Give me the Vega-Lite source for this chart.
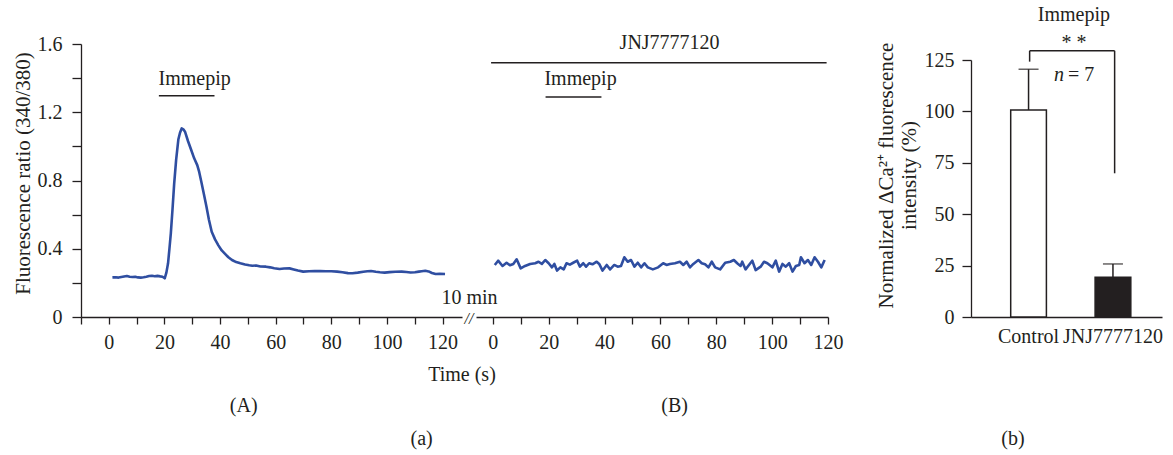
{
  "$schema": "https://vega.github.io/schema/vega-lite/v6.json",
  "padding": {"left": 11, "top": 4, "right": 5, "bottom": 5},
  "background": "white",
  "config": {
    "font": "Liberation Serif",
    "view": {"stroke": null},
    "axis": {
      "labelFont": "Liberation Serif", "titleFont": "Liberation Serif",
      "labelFontSize": 20, "titleFontSize": 20, "titleFontWeight": "normal",
      "labelColor": "#231f20", "titleColor": "#231f20",
      "domainColor": "#231f20", "tickColor": "#231f20",
      "domainWidth": 1.3, "tickWidth": 1.3, "grid": false,
      "labelOverlap": false, "labelFlush": false, "labelBound": false
    },
    "text": {"font": "Liberation Serif", "fontSize": 20, "color": "#231f20"}
  },
  "datasets": {
    "traceA": [
      {"t":1.3,"v":0.232},{"t":2.5,"v":0.233},{"t":3.5,"v":0.231},{"t":4.5,"v":0.234},{"t":5.5,"v":0.237},
      {"t":6.5,"v":0.240},{"t":7.5,"v":0.236},{"t":8.5,"v":0.234},{"t":9.5,"v":0.236},{"t":10.5,"v":0.232},
      {"t":11.5,"v":0.231},{"t":12.5,"v":0.233},{"t":13.5,"v":0.236},{"t":14.5,"v":0.240},{"t":15.5,"v":0.242},
      {"t":16.5,"v":0.239},{"t":17.5,"v":0.241},{"t":18.5,"v":0.238},{"t":19.3,"v":0.236},{"t":20.1,"v":0.227},
      {"t":20.7,"v":0.260},{"t":21.3,"v":0.315},{"t":21.8,"v":0.40},{"t":22.3,"v":0.49},{"t":22.9,"v":0.63},
      {"t":23.5,"v":0.78},{"t":24.2,"v":0.92},{"t":25.0,"v":1.04},{"t":25.6,"v":1.08},{"t":26.2,"v":1.105},
      {"t":26.8,"v":1.10},{"t":27.4,"v":1.086},{"t":28.5,"v":1.03},{"t":29.6,"v":0.98},{"t":30.7,"v":0.93},
      {"t":31.8,"v":0.89},{"t":32.5,"v":0.85},{"t":33.3,"v":0.79},{"t":34.2,"v":0.72},{"t":35.1,"v":0.647},
      {"t":36.0,"v":0.57},{"t":37.0,"v":0.50},{"t":38.2,"v":0.455},{"t":39.4,"v":0.42},{"t":40.6,"v":0.39},
      {"t":41.8,"v":0.37},{"t":43.0,"v":0.35},{"t":44.3,"v":0.334},{"t":45.8,"v":0.322},{"t":47.3,"v":0.315},
      {"t":49.0,"v":0.308},{"t":50.5,"v":0.303},{"t":51.6,"v":0.300},{"t":53.0,"v":0.302},{"t":54.5,"v":0.296},
      {"t":56.5,"v":0.295},{"t":58.0,"v":0.291},{"t":59.5,"v":0.286},{"t":61.4,"v":0.281},{"t":63.0,"v":0.284},
      {"t":65.0,"v":0.285},{"t":66.5,"v":0.279},{"t":68.0,"v":0.272},{"t":69.9,"v":0.266},{"t":72.0,"v":0.268},
      {"t":74.0,"v":0.269},{"t":76.0,"v":0.270},{"t":78.0,"v":0.268},{"t":80.0,"v":0.268},{"t":82.1,"v":0.266},
      {"t":84.0,"v":0.262},{"t":86.0,"v":0.257},{"t":87.6,"v":0.256},{"t":89.5,"v":0.260},{"t":91.5,"v":0.265},
      {"t":93.0,"v":0.268},{"t":94.3,"v":0.270},{"t":96.0,"v":0.265},{"t":97.5,"v":0.262},{"t":99.2,"v":0.260},
      {"t":101.0,"v":0.263},{"t":103.0,"v":0.265},{"t":105.3,"v":0.266},{"t":107.0,"v":0.264},{"t":108.5,"v":0.261},
      {"t":110.1,"v":0.262},{"t":111.5,"v":0.266},{"t":112.5,"v":0.268},{"t":113.8,"v":0.271},{"t":115.0,"v":0.267},
      {"t":116.2,"v":0.258},{"t":117.5,"v":0.252},{"t":119.0,"v":0.253},{"t":120.9,"v":0.252}
    ],
    "traceB": [
      {"t":0.72,"v":0.305},{"t":1.93,"v":0.330},{"t":3.49,"v":0.299},{"t":4.94,"v":0.318},{"t":6.14,"v":0.303},
      {"t":7.35,"v":0.311},{"t":8.55,"v":0.338},{"t":10.0,"v":0.285},{"t":11.56,"v":0.299},{"t":13.37,"v":0.311},
      {"t":15.18,"v":0.315},{"t":16.38,"v":0.324},{"t":17.59,"v":0.311},{"t":18.79,"v":0.334},{"t":20.0,"v":0.315},
      {"t":21.2,"v":0.291},{"t":22.05,"v":0.311},{"t":23.0,"v":0.272},{"t":24.2,"v":0.291},{"t":25.4,"v":0.279},
      {"t":26.4,"v":0.315},{"t":27.6,"v":0.307},{"t":28.8,"v":0.318},{"t":30.2,"v":0.330},{"t":31.2,"v":0.295},
      {"t":32.4,"v":0.315},{"t":33.4,"v":0.295},{"t":34.5,"v":0.315},{"t":35.7,"v":0.309},{"t":37.2,"v":0.324},
      {"t":38.1,"v":0.311},{"t":39.3,"v":0.272},{"t":40.8,"v":0.305},{"t":42.0,"v":0.279},{"t":43.5,"v":0.305},
      {"t":44.7,"v":0.295},{"t":45.9,"v":0.299},{"t":47.1,"v":0.350},{"t":48.3,"v":0.324},{"t":49.5,"v":0.334},
      {"t":50.7,"v":0.295},{"t":51.9,"v":0.318},{"t":53.1,"v":0.291},{"t":54.3,"v":0.315},{"t":55.5,"v":0.291},
      {"t":57.3,"v":0.279},{"t":59.2,"v":0.291},{"t":61.0,"v":0.315},{"t":62.2,"v":0.305},{"t":63.4,"v":0.311},
      {"t":65.2,"v":0.315},{"t":67.0,"v":0.324},{"t":68.2,"v":0.305},{"t":69.4,"v":0.324},{"t":70.6,"v":0.291},
      {"t":71.8,"v":0.311},{"t":73.6,"v":0.334},{"t":74.8,"v":0.315},{"t":76.0,"v":0.309},{"t":77.2,"v":0.291},
      {"t":78.4,"v":0.324},{"t":79.6,"v":0.291},{"t":81.4,"v":0.279},{"t":83.2,"v":0.318},{"t":85.0,"v":0.324},
      {"t":86.3,"v":0.334},{"t":87.5,"v":0.315},{"t":88.7,"v":0.299},{"t":89.3,"v":0.324},{"t":90.5,"v":0.279},
      {"t":91.7,"v":0.305},{"t":92.9,"v":0.330},{"t":94.1,"v":0.275},{"t":95.9,"v":0.295},{"t":97.1,"v":0.324},
      {"t":98.3,"v":0.315},{"t":100.1,"v":0.291},{"t":101.3,"v":0.330},{"t":102.5,"v":0.266},{"t":103.7,"v":0.311},
      {"t":104.9,"v":0.295},{"t":106.1,"v":0.315},{"t":107.3,"v":0.266},{"t":108.5,"v":0.299},{"t":109.7,"v":0.305},
      {"t":110.3,"v":0.350},{"t":111.6,"v":0.315},{"t":112.8,"v":0.334},{"t":114.0,"v":0.305},{"t":115.2,"v":0.350},
      {"t":116.4,"v":0.324},{"t":117.6,"v":0.291},{"t":118.8,"v":0.334}
    ],
    "bars": [
      {"group":"Control","mean":100.7,"upper":120.5},
      {"group":"JNJ7777120","mean":19.3,"upper":25.8}
    ]
  },
  "bounds": "flush",
  "spacing": 14,
  "hconcat": [
    {
      "width": 381, "height": 273,
      "layer": [
        {
          "data": {"name": "traceA"},
          "mark": {"type": "line", "color": "#2f4ea1", "strokeWidth": 2.6, "strokeJoin": "round"},
          "encoding": {
            "x": {"field": "t", "type": "quantitative",
              "scale": {"domain": [-10, 127], "nice": false, "zero": false},
              "axis": {"title": null, "values": [-10,0,10,20,30,40,50,60,70,80,90,100,110,120], "tickCount": 30,
                "labelExpr": "datum.value % 20 == 0 ? format(datum.value, 'd') : ''", "tickSize": 7, "labelPadding": 8,
                "labelOverlap": false}},
            "y": {"field": "v", "type": "quantitative",
              "scale": {"domain": [0, 1.6], "nice": false, "zero": false},
              "axis": {"title": "Fluorescence ratio (340/380)", "values": [0,0.2,0.4,0.6,0.8,1.0,1.2,1.4,1.6], "tickCount": 30,
                "format": ".1~f", "labelExpr": "round(datum.value*10) % 4 == 0 ? datum.label : ''",
                "tickSize": 9, "labelPadding": 10, "titlePadding": 4, "titleY": 129, "titleFontSize": 21,
                "labelOverlap": false}}
          }
        },
        {
          "data": {"values": [{}]},
          "mark": {"type": "rule", "color": "#231f20", "strokeWidth": 1.5},
          "encoding": {"x": {"datum": 18, "type": "quantitative"}, "x2": {"datum": 38}, "y": {"datum": 1.297, "type": "quantitative"}}
        },
        {
          "data": {"values": [{}]},
          "mark": {"type": "text", "align": "left", "baseline": "alphabetic"},
          "encoding": {"x": {"datum": 17.9, "type": "quantitative"}, "y": {"datum": 1.36, "type": "quantitative"}, "text": {"value": "Immepip"}}
        },
        {
          "data": {"values": [{}]},
          "mark": {"type": "text", "align": "center", "baseline": "middle", "fontSize": 16, "fontStyle": "italic"},
          "encoding": {"x": {"datum": 129.5, "type": "quantitative"}, "y": {"datum": -0.01, "type": "quantitative"}, "text": {"value": "//"}}
        },
        {
          "data": {"values": [{}]},
          "mark": {"type": "text", "align": "center", "baseline": "alphabetic"},
          "encoding": {"x": {"datum": 129.7, "type": "quantitative"}, "y": {"datum": 0.078, "type": "quantitative"}, "text": {"value": "10 min"}}
        },
        {
          "data": {"values": [{}]},
          "mark": {"type": "text", "align": "center", "baseline": "alphabetic"},
          "encoding": {"x": {"datum": 127, "type": "quantitative"}, "y": {"datum": -0.375, "type": "quantitative"}, "text": {"value": "Time (s)"}}
        },
        {
          "data": {"values": [{}]},
          "mark": {"type": "text", "align": "center", "baseline": "alphabetic"},
          "encoding": {"x": {"datum": 48.5, "type": "quantitative"}, "y": {"datum": -0.557, "type": "quantitative"}, "text": {"value": "(A)"}}
        },
        {
          "data": {"values": [{}]},
          "mark": {"type": "text", "align": "center", "baseline": "alphabetic"},
          "encoding": {"x": {"datum": 112.5, "type": "quantitative"}, "y": {"datum": -0.75, "type": "quantitative"}, "text": {"value": "(a)"}}
        }
      ]
    },
    {
      "width": 481, "height": 273,
      "layer": [
        {
          "data": {"name": "traceB"},
          "mark": {"type": "line", "color": "#2f4ea1", "strokeWidth": 2.6, "strokeJoin": "round"},
          "encoding": {
            "x": {"field": "t", "type": "quantitative",
              "scale": {"domain": [-6, 120], "range": [0, 352], "nice": false, "zero": false},
              "axis": {"title": null, "values": [0,10,20,30,40,50,60,70,80,90,100,110,120], "tickCount": 30,
                "labelExpr": "datum.value % 20 == 0 ? format(datum.value, 'd') : ''", "tickSize": 7, "labelPadding": 8,
                "labelOverlap": false}},
            "y": {"field": "v", "type": "quantitative",
              "scale": {"domain": [0, 1.6], "nice": false, "zero": false}, "axis": null}
          }
        },
        {
          "data": {"values": [{}]},
          "mark": {"type": "rule", "color": "#231f20", "strokeWidth": 1.5},
          "encoding": {"x": {"datum": -0.6, "type": "quantitative"}, "x2": {"datum": 119.5}, "y": {"datum": 1.49, "type": "quantitative"}}
        },
        {
          "data": {"values": [{}]},
          "mark": {"type": "text", "align": "center", "baseline": "alphabetic"},
          "encoding": {"x": {"datum": 63.3, "type": "quantitative"}, "y": {"datum": 1.57, "type": "quantitative"}, "text": {"value": "JNJ7777120"}}
        },
        {
          "data": {"values": [{}]},
          "mark": {"type": "rule", "color": "#231f20", "strokeWidth": 1.5},
          "encoding": {"x": {"datum": 18.9, "type": "quantitative"}, "x2": {"datum": 38.9}, "y": {"datum": 1.29, "type": "quantitative"}}
        },
        {
          "data": {"values": [{}]},
          "mark": {"type": "text", "align": "left", "baseline": "alphabetic"},
          "encoding": {"x": {"datum": 18.5, "type": "quantitative"}, "y": {"datum": 1.36, "type": "quantitative"}, "text": {"value": "Immepip"}}
        },
        {
          "data": {"values": [{}]},
          "mark": {"type": "text", "align": "center", "baseline": "alphabetic"},
          "encoding": {"x": {"datum": 65.1, "type": "quantitative"}, "y": {"datum": -0.557, "type": "quantitative"}, "text": {"value": "(B)"}}
        }
      ]
    },
    {
      "width": 191, "height": 273,
      "resolve": {"scale": {"x": "independent"}},
      "layer": [
        {
          "data": {"name": "bars"},
          "layer": [
            {
              "mark": {"type": "bar", "stroke": "#231f20", "strokeWidth": 1.5},
              "encoding": {
                "x": {"field": "group", "type": "nominal", "sort": null,
                  "scale": {"paddingInner": 0.577, "paddingOuter": 0.42, "align": 0.56},
                  "axis": {"title": null, "labelAngle": 0, "ticks": false, "labelPadding": 9}},
                "y": {"field": "mean", "type": "quantitative",
                  "scale": {"domain": [0, 125], "range": [273, 16], "nice": false, "zero": false},
                  "axis": {"title": ["Normalized ΔCa²⁺ fluorescence", "intensity (%)"],
                    "values": [0, 25, 50, 75, 100, 125], "tickCount": 30, "tickSize": 9, "labelPadding": 8,
                    "titlePadding": 5, "titleY": 131, "titleLineHeight": 23, "titleFontSize": 21,
                    "labelOverlap": false}},
                "fill": {"field": "group", "type": "nominal", "sort": null,
                  "scale": {"range": ["#ffffff", "#231f20"]}, "legend": null}
              }
            },
            {
              "mark": {"type": "rule", "color": "#231f20", "strokeWidth": 1.5},
              "encoding": {
                "x": {"field": "group", "type": "nominal", "sort": null},
                "y": {"field": "mean", "type": "quantitative"},
                "y2": {"field": "upper"}
              }
            },
            {
              "mark": {"type": "tick", "orient": "horizontal", "size": 20, "thickness": 1.5, "color": "#231f20"},
              "encoding": {
                "x": {"field": "group", "type": "nominal", "sort": null},
                "y": {"field": "upper", "type": "quantitative"}
              }
            }
          ]
        },
        {
          "data": {"values": [{}]},
          "layer": [
            {
              "mark": {"type": "rule", "color": "#231f20", "strokeWidth": 1.5},
              "encoding": {"x": {"datum": 0.307, "type": "quantitative", "scale": {"domain": [0, 1], "nice": false, "zero": false}, "axis": null},
                "y": {"datum": 124.2, "type": "quantitative"}, "y2": {"datum": 129.5}}
            },
            {
              "mark": {"type": "rule", "color": "#231f20", "strokeWidth": 1.5},
              "encoding": {"x": {"datum": 0.307, "type": "quantitative"}, "x2": {"datum": 0.752},
                "y": {"datum": 129.5, "type": "quantitative"}}
            },
            {
              "mark": {"type": "rule", "color": "#231f20", "strokeWidth": 1.5},
              "encoding": {"x": {"datum": 0.752, "type": "quantitative"},
                "y": {"datum": 69.9, "type": "quantitative"}, "y2": {"datum": 129.5}}
            },
            {
              "mark": {"type": "text", "align": "center", "baseline": "alphabetic"},
              "encoding": {"x": {"datum": 0.539, "type": "quantitative"}, "y": {"datum": 130.4, "type": "quantitative"}, "text": {"value": "* *"}}
            },
            {
              "mark": {"type": "text", "align": "center", "baseline": "alphabetic"},
              "encoding": {"x": {"datum": 0.539, "type": "quantitative"}, "y": {"datum": 144, "type": "quantitative"}, "text": {"value": "Immepip"}}
            },
            {
              "mark": {"type": "text", "align": "right", "baseline": "alphabetic", "fontStyle": "italic"},
              "encoding": {"x": {"datum": 0.487, "type": "quantitative"}, "y": {"datum": 114.8, "type": "quantitative"}, "text": {"value": "n"}}
            },
            {
              "mark": {"type": "text", "align": "left", "baseline": "alphabetic"},
              "encoding": {"x": {"datum": 0.508, "type": "quantitative"}, "y": {"datum": 114.8, "type": "quantitative"}, "text": {"value": "= 7"}}
            },
            {
              "mark": {"type": "text", "align": "center", "baseline": "alphabetic"},
              "encoding": {"x": {"datum": 0.22, "type": "quantitative"}, "y": {"datum": -62.3, "type": "quantitative"}, "text": {"value": "(b)"}}
            }
          ]
        }
      ]
    }
  ]
}
